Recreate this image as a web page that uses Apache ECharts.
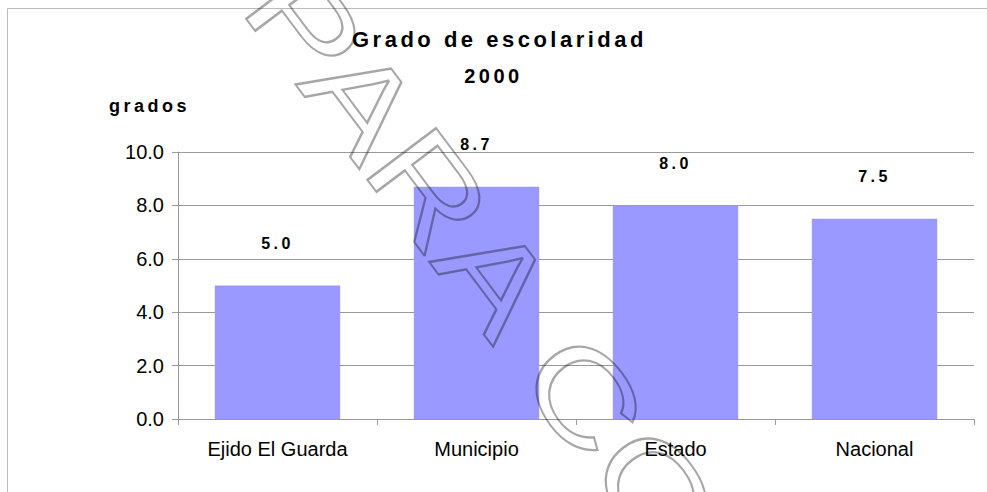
<!DOCTYPE html>
<html>
<head>
<meta charset="utf-8">
<script src="https://cdn.jsdelivr.net/npm/echarts@6/dist/echarts.min.js"></script>
<style>
  html, body { margin: 0; padding: 0; background: #fff; }
  #chart { width: 987px; height: 492px; }
  /* los textos en negrita del original van espaciados */
  #chart text[style*="bold"], #chart text[font-weight="bold"] { letter-spacing: 3.5px; }
</style>
</head>
<body>
<div id="chart"></div>
<script>
// datos
var categorias = ['Ejido El Guarda', 'Municipio', 'Estado', 'Nacional'];
var grados = [5.0, 8.7, 8.0, 7.5];
var titulo = 'Grado de escolaridad';
var anio = '2000';
var nombreEje = 'grados';
var marcaAgua = 'PARA CONSULTA';

var fuente = 'Liberation Sans';
var myChart = echarts.init(document.getElementById('chart'), null, { renderer: 'svg' });

var option = {
    backgroundColor: '#fff',
    animation: false,
    title: [{
        text: titulo,
        left: 347,
        top: 23,
        textStyle: { fontFamily: fuente, fontSize: 22, fontWeight: 'bold', color: '#000' }
    }, {
        text: anio,
        left: 'center',
        top: 61,
        textStyle: { fontFamily: fuente, fontSize: 20, fontWeight: 'bold', color: '#000' }
    }],
    grid: { left: 178, right: 13, top: 152, bottom: 73 },
    xAxis: {
        type: 'category',
        data: categorias,
        axisLine: { lineStyle: { color: '#999' } },
        axisTick: { show: true, length: 6, lineStyle: { color: '#999' } },
        axisLabel: { color: '#000', fontFamily: fuente, fontSize: 20, margin: 20 }
    },
    yAxis: {
        type: 'value',
        min: 0,
        max: 10,
        interval: 2,
        name: nombreEje,
        nameLocation: 'end',
        nameGap: 37,
        nameTextStyle: { fontFamily: fuente, fontSize: 18, fontWeight: 'bold', color: '#000', align: 'right', padding: [0, -12, 0, 0] },
        axisLine: { show: true, lineStyle: { color: '#999' } },
        axisTick: { show: true, length: 6, lineStyle: { color: '#999' } },
        axisLabel: {
            color: '#000', fontFamily: fuente, fontSize: 20, margin: 14,
            formatter: function (v) { return v.toFixed(1); }
        },
        splitLine: { lineStyle: { color: '#999' } }
    },
    series: [{
        type: 'bar',
        data: grados,
        barWidth: '63%',
        itemStyle: { color: '#9999FF' },
        label: {
            show: true,
            position: 'top',
            distance: 34,
            color: '#000',
            fontFamily: fuente,
            fontSize: 16,
            fontWeight: 'bold',
            formatter: function (p) { return p.value.toFixed(1); }
        }
    }],
    graphic: [{
        type: 'rect',
        silent: true,
        shape: { x: 7.5, y: 8.5, width: 1000, height: 500 },
        style: { fill: 'none', stroke: '#bbb', lineWidth: 1 }
    }, {
        // marca de agua
        type: 'text',
        silent: true,
        z: 100,
        x: 223,
        y: 20,
        rotation: -0.925,
        scaleX: 1.28,
        style: {
            text: marcaAgua,
            font: '125px "Liberation Sans"',
            fill: 'none',
            stroke: 'rgba(0,0,0,0.35)',
            lineWidth: 2,
            textAlign: 'left',
            textVerticalAlign: 'bottom'
        }
    }]
};

myChart.setOption(option);
</script>
</body>
</html>
